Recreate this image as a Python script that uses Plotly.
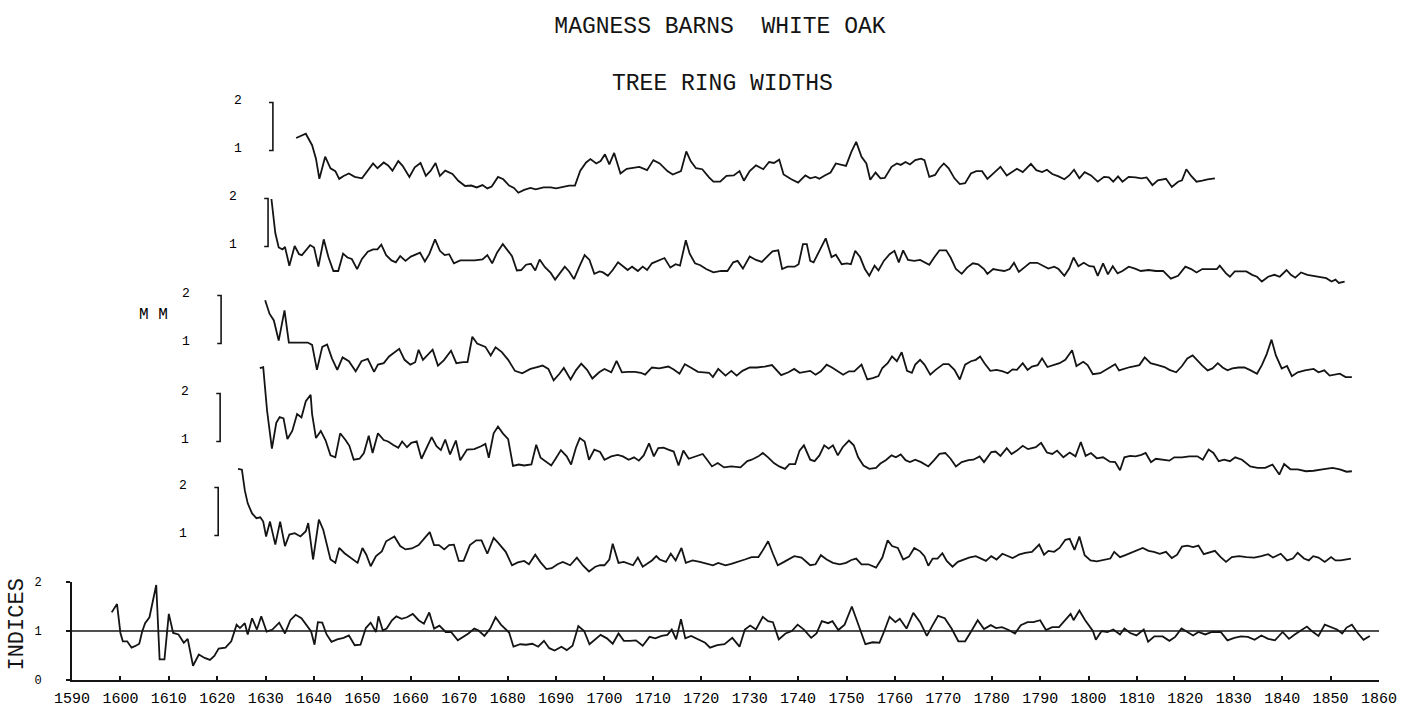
import plotly.graph_objects as go

# ---------------- text ----------------
TITLE = "MAGNESS BARNS  WHITE OAK"
SUBTITLE = "TREE RING WIDTHS"
UNIT_LABEL = "M M"
INDEX_LABEL = "INDICES"
X_TICKS = list(range(1590, 1861, 10))
INDEX_TICKS = [0, 1, 2]
BRACKET_LABELS = ["2", "1"]
INDEX_REF = 1.0

# ---------------- data: (year, ring width mm) ----------------
TREE_1 = [
    (1636.3, 1.26), (1638.3, 1.35), (1639.6, 1.11), (1640.4, 0.83), (1641.1, 0.41), (1642.3, 0.87),
    (1643.4, 0.63), (1644.4, 0.57), (1645.2, 0.41), (1646.1, 0.47), (1647.2, 0.52), (1648.4, 0.45),
    (1649.9, 0.42), (1651.1, 0.59), (1652.2, 0.73), (1653.1, 0.63), (1654.4, 0.75), (1655.3, 0.69),
    (1656.2, 0.58), (1657.4, 0.78), (1658.3, 0.68), (1659.7, 0.45), (1660.8, 0.65), (1662.0, 0.74),
    (1663.1, 0.47), (1664.1, 0.58), (1665.1, 0.74), (1666.0, 0.47), (1667.1, 0.58), (1668.6, 0.51),
    (1669.8, 0.37), (1671.2, 0.26), (1672.5, 0.27), (1673.6, 0.23), (1674.8, 0.28), (1675.8, 0.21),
    (1676.7, 0.25), (1678.0, 0.45), (1679.1, 0.40), (1680.3, 0.27), (1681.3, 0.22), (1682.2, 0.12),
    (1683.4, 0.18), (1684.7, 0.22), (1685.8, 0.19), (1687.4, 0.23), (1688.9, 0.23), (1690.0, 0.21),
    (1691.6, 0.25), (1692.7, 0.27), (1693.9, 0.27), (1695.0, 0.58), (1696.2, 0.75), (1697.1, 0.82),
    (1698.3, 0.73), (1699.2, 0.78), (1700.1, 0.92), (1701.0, 0.71), (1702.0, 0.95), (1703.3, 0.52),
    (1704.6, 0.62), (1705.7, 0.64), (1707.2, 0.66), (1708.8, 0.59), (1710.1, 0.80), (1711.4, 0.73),
    (1713.0, 0.57), (1714.1, 0.50), (1715.8, 0.57), (1716.9, 0.98), (1717.8, 0.78), (1718.9, 0.63),
    (1720.2, 0.61), (1721.6, 0.44), (1722.5, 0.35), (1723.9, 0.35), (1725.2, 0.47), (1726.7, 0.48),
    (1727.9, 0.57), (1728.8, 0.37), (1730.0, 0.57), (1731.3, 0.69), (1732.8, 0.61), (1734.0, 0.76),
    (1735.0, 0.74), (1736.1, 0.81), (1737.0, 0.50), (1738.6, 0.40), (1740.0, 0.33), (1741.5, 0.48),
    (1742.5, 0.42), (1743.6, 0.45), (1744.4, 0.41), (1745.5, 0.48), (1746.7, 0.54), (1747.8, 0.73),
    (1749.0, 0.71), (1749.9, 0.68), (1751.0, 0.97), (1752.0, 1.18), (1753.1, 0.87), (1754.1, 0.73),
    (1754.9, 0.39), (1756.0, 0.54), (1757.0, 0.42), (1757.9, 0.43), (1759.3, 0.66), (1760.4, 0.73),
    (1761.2, 0.70), (1762.2, 0.76), (1763.1, 0.71), (1764.2, 0.80), (1765.4, 0.83), (1766.1, 0.80),
    (1767.1, 0.45), (1768.3, 0.49), (1769.2, 0.63), (1770.1, 0.73), (1771.1, 0.63), (1772.3, 0.42),
    (1773.4, 0.30), (1774.5, 0.32), (1775.7, 0.52), (1776.8, 0.57), (1778.0, 0.57), (1779.1, 0.41),
    (1780.4, 0.53), (1781.8, 0.66), (1783.1, 0.48), (1784.3, 0.57), (1785.2, 0.62), (1786.4, 0.55),
    (1788.1, 0.72), (1789.2, 0.59), (1790.4, 0.55), (1791.4, 0.60), (1792.5, 0.51), (1793.8, 0.46),
    (1795.0, 0.40), (1796.0, 0.48), (1797.0, 0.60), (1798.1, 0.42), (1799.2, 0.55), (1800.5, 0.48),
    (1801.9, 0.35), (1803.2, 0.45), (1804.2, 0.44), (1805.1, 0.35), (1806.1, 0.46), (1807.0, 0.35),
    (1808.3, 0.45), (1809.7, 0.44), (1810.9, 0.42), (1812.0, 0.44), (1813.2, 0.28), (1814.3, 0.38),
    (1816.0, 0.41), (1817.2, 0.24), (1818.5, 0.35), (1819.3, 0.38), (1820.2, 0.61), (1821.2, 0.47),
    (1822.3, 0.35), (1823.5, 0.37), (1824.6, 0.40), (1826.1, 0.42),
]

TREE_2 = [
    (1631.2, 1.99), (1632.0, 1.28), (1632.7, 0.98), (1633.5, 0.94), (1634.0, 0.99), (1634.9, 0.60),
    (1636.0, 1.01), (1636.9, 0.84), (1637.5, 0.82), (1638.3, 0.92), (1639.2, 1.03), (1640.0, 0.98),
    (1640.9, 0.58), (1642.0, 1.15), (1643.0, 0.77), (1644.0, 0.49), (1645.0, 0.49), (1646.0, 0.85),
    (1646.9, 0.77), (1647.8, 0.74), (1648.9, 0.53), (1649.9, 0.74), (1651.1, 0.89), (1652.2, 0.94),
    (1653.1, 0.94), (1653.9, 1.04), (1654.9, 0.82), (1656.0, 0.71), (1656.9, 0.67), (1657.8, 0.80),
    (1658.9, 0.70), (1660.0, 0.79), (1661.2, 0.84), (1661.9, 0.87), (1662.9, 0.69), (1663.8, 0.84),
    (1665.0, 1.15), (1666.0, 0.91), (1667.0, 0.82), (1667.9, 0.84), (1668.9, 0.65), (1670.2, 0.71),
    (1671.7, 0.71), (1673.2, 0.71), (1674.8, 0.73), (1675.8, 0.82), (1676.8, 0.65), (1677.8, 0.87),
    (1679.0, 1.05), (1680.1, 0.91), (1680.9, 0.80), (1681.9, 0.50), (1682.8, 0.51), (1683.8, 0.62),
    (1684.8, 0.64), (1685.7, 0.50), (1686.6, 0.73), (1687.7, 0.57), (1688.9, 0.45), (1689.8, 0.31),
    (1690.8, 0.45), (1691.8, 0.58), (1692.7, 0.48), (1693.7, 0.32), (1694.9, 0.60), (1695.9, 0.82),
    (1696.9, 0.72), (1697.9, 0.43), (1699.0, 0.48), (1699.7, 0.46), (1700.7, 0.39), (1701.7, 0.51),
    (1702.8, 0.67), (1703.8, 0.58), (1704.8, 0.51), (1705.7, 0.58), (1706.9, 0.49), (1707.9, 0.58),
    (1708.8, 0.51), (1709.8, 0.65), (1710.9, 0.70), (1712.4, 0.76), (1713.6, 0.56), (1714.7, 0.63),
    (1715.6, 0.60), (1716.8, 1.13), (1717.6, 0.85), (1718.7, 0.65), (1719.8, 0.61), (1721.0, 0.53),
    (1722.5, 0.46), (1724.1, 0.49), (1725.4, 0.49), (1726.6, 0.67), (1727.5, 0.70), (1728.6, 0.54),
    (1730.0, 0.79), (1731.3, 0.72), (1732.5, 0.68), (1733.6, 0.79), (1734.7, 0.90), (1735.9, 0.92),
    (1736.7, 0.53), (1737.8, 0.58), (1739.3, 0.58), (1740.1, 0.63), (1741.0, 1.05), (1741.8, 1.05),
    (1742.5, 0.70), (1743.2, 0.67), (1744.4, 0.91), (1745.7, 1.17), (1746.9, 0.78), (1747.8, 0.83),
    (1749.0, 0.63), (1750.1, 0.65), (1750.9, 0.63), (1751.8, 0.91), (1752.8, 0.78), (1753.8, 0.53),
    (1754.7, 0.39), (1755.8, 0.60), (1756.6, 0.50), (1757.7, 0.70), (1758.9, 0.84), (1759.9, 0.91),
    (1760.8, 0.67), (1761.7, 0.92), (1762.7, 0.72), (1764.0, 0.70), (1765.2, 0.72), (1766.2, 0.67),
    (1767.1, 0.62), (1768.1, 0.77), (1769.2, 0.92), (1770.6, 0.92), (1771.5, 0.77), (1772.6, 0.53),
    (1773.8, 0.43), (1774.9, 0.56), (1776.1, 0.65), (1777.2, 0.63), (1778.4, 0.53), (1779.1, 0.43),
    (1780.3, 0.53), (1781.4, 0.51), (1782.6, 0.49), (1783.7, 0.53), (1784.6, 0.66), (1785.6, 0.47),
    (1786.8, 0.56), (1787.9, 0.66), (1789.4, 0.66), (1790.6, 0.59), (1791.7, 0.54), (1792.9, 0.58),
    (1793.8, 0.53), (1795.0, 0.39), (1796.0, 0.54), (1796.9, 0.77), (1797.9, 0.59), (1799.0, 0.66),
    (1800.2, 0.59), (1801.1, 0.58), (1801.9, 0.39), (1803.0, 0.65), (1804.0, 0.42), (1805.0, 0.59),
    (1806.0, 0.44), (1807.0, 0.49), (1808.3, 0.58), (1809.6, 0.54), (1810.8, 0.49), (1812.4, 0.51),
    (1813.9, 0.49), (1815.4, 0.49), (1817.0, 0.33), (1818.5, 0.39), (1820.0, 0.58), (1821.2, 0.53),
    (1822.3, 0.46), (1823.5, 0.53), (1825.0, 0.53), (1826.5, 0.53), (1827.1, 0.60), (1828.4, 0.44),
    (1829.2, 0.37), (1830.2, 0.48), (1831.5, 0.48), (1832.6, 0.48), (1833.8, 0.41), (1834.8, 0.37),
    (1835.8, 0.27), (1837.1, 0.37), (1838.4, 0.41), (1839.5, 0.37), (1840.9, 0.51), (1841.8, 0.41),
    (1842.7, 0.35), (1843.9, 0.46), (1845.2, 0.41), (1846.4, 0.39), (1847.9, 0.37), (1849.1, 0.34),
    (1850.2, 0.27), (1851.0, 0.31), (1851.7, 0.24), (1852.9, 0.27),
]

TREE_3 = [
    (1629.9, 1.90), (1630.8, 1.62), (1631.7, 1.48), (1632.7, 1.06), (1633.9, 1.69), (1634.8, 1.02),
    (1635.6, 1.02), (1638.7, 1.02), (1639.6, 0.97), (1640.6, 0.45), (1641.7, 0.93), (1642.7, 0.98),
    (1643.7, 0.69), (1644.8, 0.45), (1645.9, 0.71), (1647.2, 0.63), (1648.6, 0.42), (1649.8, 0.63),
    (1651.1, 0.68), (1652.4, 0.41), (1653.2, 0.56), (1654.4, 0.59), (1655.5, 0.73), (1657.6, 0.89),
    (1658.7, 0.66), (1659.9, 0.56), (1660.9, 0.61), (1661.6, 0.87), (1662.5, 0.66), (1663.5, 0.77),
    (1664.5, 0.87), (1665.6, 0.54), (1666.8, 0.65), (1668.3, 0.85), (1669.4, 0.59), (1670.8, 0.61),
    (1671.7, 0.61), (1672.7, 1.14), (1673.7, 1.00), (1675.4, 0.93), (1676.5, 0.75), (1677.5, 0.92),
    (1678.8, 0.82), (1680.1, 0.66), (1681.5, 0.43), (1683.0, 0.38), (1684.7, 0.47), (1686.1, 0.51),
    (1687.2, 0.54), (1688.4, 0.47), (1689.5, 0.23), (1690.7, 0.37), (1691.6, 0.49), (1693.0, 0.25),
    (1694.1, 0.44), (1695.2, 0.58), (1696.4, 0.45), (1697.5, 0.27), (1698.9, 0.40), (1700.0, 0.47),
    (1701.4, 0.40), (1702.5, 0.64), (1703.6, 0.40), (1704.8, 0.41), (1706.3, 0.41), (1707.5, 0.39),
    (1708.4, 0.35), (1709.8, 0.50), (1711.3, 0.48), (1713.2, 0.52), (1714.3, 0.46), (1715.5, 0.37),
    (1716.6, 0.57), (1717.8, 0.50), (1719.3, 0.41), (1720.5, 0.40), (1721.6, 0.39), (1722.4, 0.30),
    (1723.5, 0.47), (1725.0, 0.33), (1726.2, 0.43), (1727.3, 0.33), (1728.5, 0.43), (1730.0, 0.50),
    (1731.5, 0.50), (1733.1, 0.52), (1734.6, 0.55), (1736.5, 0.34), (1738.0, 0.40), (1739.2, 0.47),
    (1740.3, 0.39), (1742.5, 0.43), (1743.6, 0.35), (1744.7, 0.42), (1745.9, 0.56), (1747.0, 0.50),
    (1748.2, 0.42), (1749.3, 0.35), (1750.5, 0.42), (1751.6, 0.42), (1753.1, 0.56), (1754.3, 0.25),
    (1755.4, 0.28), (1756.6, 0.32), (1757.4, 0.49), (1758.5, 0.59), (1759.4, 0.73), (1760.4, 0.63),
    (1761.4, 0.82), (1762.5, 0.43), (1763.5, 0.39), (1764.2, 0.56), (1765.2, 0.66), (1766.1, 0.56),
    (1767.3, 0.35), (1768.4, 0.45), (1770.0, 0.57), (1771.1, 0.57), (1772.3, 0.45), (1773.4, 0.25),
    (1774.5, 0.56), (1775.7, 0.63), (1776.7, 0.66), (1777.6, 0.73), (1778.5, 0.59), (1779.7, 0.43),
    (1781.0, 0.45), (1782.3, 0.42), (1783.3, 0.38), (1784.3, 0.46), (1785.2, 0.45), (1786.4, 0.59),
    (1787.4, 0.45), (1788.3, 0.52), (1789.5, 0.55), (1790.4, 0.69), (1791.5, 0.51), (1792.9, 0.55),
    (1794.0, 0.59), (1795.2, 0.66), (1796.6, 0.86), (1797.5, 0.53), (1798.9, 0.62), (1799.8, 0.55),
    (1800.9, 0.36), (1802.4, 0.38), (1803.6, 0.46), (1804.7, 0.52), (1805.5, 0.57), (1806.3, 0.44),
    (1807.4, 0.48), (1808.6, 0.51), (1809.6, 0.53), (1810.5, 0.55), (1811.6, 0.71), (1812.8, 0.59),
    (1814.3, 0.55), (1815.7, 0.51), (1816.7, 0.45), (1818.1, 0.40), (1819.3, 0.53), (1820.4, 0.69),
    (1821.5, 0.75), (1822.5, 0.64), (1823.5, 0.54), (1824.6, 0.44), (1825.6, 0.48), (1826.7, 0.59),
    (1827.7, 0.50), (1828.7, 0.44), (1829.7, 0.48), (1831.0, 0.50), (1832.2, 0.50), (1833.5, 0.44),
    (1834.8, 0.37), (1835.8, 0.55), (1836.8, 0.78), (1837.8, 1.08), (1838.7, 0.75), (1839.9, 0.48),
    (1841.0, 0.53), (1842.0, 0.32), (1843.2, 0.40), (1844.7, 0.44), (1846.5, 0.47), (1847.5, 0.40),
    (1848.7, 0.44), (1849.8, 0.33), (1851.0, 0.35), (1851.9, 0.37), (1853.1, 0.30), (1854.4, 0.30),
]

TREE_4 = [
    (1628.8, 2.53), (1629.5, 2.55), (1630.3, 1.64), (1631.3, 0.85), (1632.2, 1.39), (1632.9, 1.51),
    (1633.7, 1.48), (1634.5, 1.05), (1635.5, 1.22), (1636.5, 1.57), (1637.4, 1.50), (1638.3, 1.84),
    (1639.3, 1.97), (1639.6, 1.57), (1640.4, 1.07), (1641.4, 1.22), (1642.4, 1.02), (1643.4, 0.71),
    (1644.4, 0.67), (1645.4, 1.17), (1646.5, 1.03), (1647.3, 0.91), (1648.2, 0.62), (1649.4, 0.64),
    (1650.3, 0.76), (1651.3, 1.12), (1652.1, 0.76), (1653.2, 1.17), (1654.4, 1.03), (1655.3, 1.00),
    (1656.3, 0.93), (1657.4, 0.87), (1658.2, 1.00), (1659.2, 0.88), (1660.1, 0.97), (1661.2, 1.00),
    (1662.2, 0.64), (1663.1, 0.83), (1664.3, 1.09), (1665.3, 0.90), (1666.2, 0.82), (1667.1, 1.04),
    (1668.1, 0.73), (1669.3, 1.02), (1670.2, 0.61), (1671.6, 0.83), (1673.1, 0.84), (1674.5, 0.90),
    (1675.4, 0.95), (1676.1, 0.66), (1677.1, 1.17), (1678.0, 1.31), (1679.0, 1.17), (1680.1, 1.05),
    (1681.1, 0.49), (1682.3, 0.52), (1683.4, 0.50), (1684.9, 0.52), (1685.9, 0.93), (1686.8, 0.66),
    (1688.0, 0.57), (1689.0, 0.50), (1689.9, 0.64), (1691.0, 0.82), (1692.2, 0.69), (1693.1, 0.52),
    (1694.1, 0.87), (1694.9, 1.07), (1695.9, 1.00), (1696.8, 0.62), (1697.9, 0.83), (1699.1, 0.78),
    (1700.0, 0.62), (1701.4, 0.69), (1702.7, 0.72), (1703.8, 0.69), (1705.0, 0.62), (1706.1, 0.67),
    (1707.1, 0.60), (1708.1, 0.71), (1709.2, 0.96), (1710.2, 0.69), (1711.1, 0.86), (1712.2, 0.87),
    (1713.2, 0.83), (1714.3, 0.79), (1715.3, 0.50), (1716.3, 0.81), (1717.4, 0.64), (1718.3, 0.67),
    (1719.3, 0.71), (1720.3, 0.74), (1721.2, 0.62), (1722.2, 0.48), (1723.4, 0.55), (1724.7, 0.46),
    (1726.2, 0.48), (1728.1, 0.46), (1729.5, 0.59), (1730.4, 0.62), (1731.8, 0.69), (1732.7, 0.76),
    (1733.8, 0.67), (1735.0, 0.55), (1736.1, 0.48), (1737.3, 0.43), (1738.2, 0.53), (1739.4, 0.53),
    (1740.3, 0.81), (1741.2, 0.92), (1742.5, 0.62), (1743.4, 0.59), (1744.4, 0.71), (1745.4, 0.92),
    (1746.3, 0.85), (1747.2, 0.92), (1748.2, 0.71), (1749.2, 0.88), (1750.5, 1.02), (1751.5, 0.92),
    (1752.4, 0.67), (1753.5, 0.50), (1754.7, 0.43), (1756.1, 0.45), (1757.0, 0.54), (1758.1, 0.61),
    (1759.3, 0.71), (1760.2, 0.67), (1761.2, 0.73), (1762.2, 0.61), (1763.1, 0.57), (1764.2, 0.62),
    (1765.4, 0.57), (1766.9, 0.48), (1768.1, 0.61), (1769.2, 0.74), (1770.4, 0.76), (1771.5, 0.64),
    (1772.6, 0.48), (1773.8, 0.57), (1775.2, 0.61), (1776.2, 0.62), (1777.5, 0.69), (1778.4, 0.57),
    (1779.9, 0.78), (1780.8, 0.79), (1781.8, 0.70), (1783.1, 0.86), (1784.1, 0.74), (1785.2, 0.81),
    (1786.4, 0.91), (1787.5, 0.84), (1789.1, 0.88), (1790.2, 0.97), (1791.4, 0.77), (1792.5, 0.74),
    (1793.5, 0.81), (1794.8, 0.67), (1796.1, 0.77), (1797.3, 0.69), (1798.4, 0.99), (1799.4, 0.70),
    (1800.5, 0.76), (1801.7, 0.65), (1803.0, 0.67), (1804.4, 0.58), (1805.5, 0.57), (1806.5, 0.40),
    (1807.4, 0.67), (1808.6, 0.70), (1809.7, 0.69), (1810.9, 0.72), (1811.8, 0.76), (1812.9, 0.57),
    (1813.9, 0.64), (1815.4, 0.62), (1816.7, 0.60), (1817.7, 0.67), (1819.3, 0.67), (1820.8, 0.69),
    (1822.5, 0.69), (1823.6, 0.62), (1824.8, 0.83), (1825.8, 0.76), (1826.9, 0.59), (1828.0, 0.62),
    (1829.2, 0.59), (1830.3, 0.67), (1831.7, 0.62), (1833.4, 0.48), (1834.9, 0.45), (1836.5, 0.45),
    (1838.0, 0.52), (1839.4, 0.31), (1840.4, 0.53), (1841.7, 0.42), (1843.2, 0.42), (1844.9, 0.38),
    (1846.5, 0.39), (1848.3, 0.42), (1850.4, 0.45), (1851.9, 0.42), (1853.3, 0.37), (1854.4, 0.38),
]

TREE_5 = [
    (1624.3, 2.39), (1625.1, 2.37), (1625.7, 1.94), (1626.3, 1.67), (1627.2, 1.46), (1628.1, 1.36),
    (1628.9, 1.38), (1629.5, 1.29), (1630.1, 0.98), (1630.9, 1.29), (1632.0, 0.81), (1633.0, 1.29),
    (1634.0, 0.78), (1634.9, 1.02), (1636.0, 1.05), (1637.2, 0.98), (1638.3, 1.09), (1638.8, 1.26),
    (1639.8, 0.50), (1641.0, 1.33), (1641.9, 1.12), (1642.5, 0.88), (1643.4, 0.50), (1644.4, 0.43),
    (1645.2, 0.74), (1646.3, 0.63), (1647.5, 0.54), (1649.0, 0.43), (1650.0, 0.74), (1650.8, 0.60),
    (1651.7, 0.36), (1652.8, 0.57), (1654.0, 0.67), (1654.9, 0.88), (1656.6, 0.98), (1657.8, 0.78),
    (1658.9, 0.71), (1660.2, 0.73), (1661.6, 0.80), (1662.8, 0.93), (1663.9, 1.07), (1664.8, 0.80),
    (1665.8, 0.80), (1666.9, 0.71), (1667.9, 0.80), (1668.9, 0.81), (1669.9, 0.47), (1670.9, 0.47),
    (1672.2, 0.80), (1673.5, 0.90), (1674.6, 0.90), (1675.8, 0.62), (1677.1, 0.95), (1678.0, 0.85),
    (1679.6, 0.66), (1680.9, 0.38), (1682.1, 0.44), (1683.4, 0.47), (1684.4, 0.40), (1685.7, 0.60),
    (1686.8, 0.44), (1688.0, 0.30), (1689.1, 0.32), (1690.3, 0.40), (1691.4, 0.45), (1692.9, 0.38),
    (1694.3, 0.54), (1695.6, 0.37), (1696.8, 0.25), (1698.1, 0.35), (1699.1, 0.38), (1700.0, 0.38),
    (1701.0, 0.50), (1701.7, 0.83), (1702.9, 0.43), (1704.0, 0.45), (1705.2, 0.41), (1705.9, 0.38),
    (1706.9, 0.54), (1707.9, 0.35), (1708.8, 0.41), (1709.8, 0.48), (1710.7, 0.57), (1711.4, 0.50),
    (1712.7, 0.45), (1713.7, 0.62), (1714.7, 0.48), (1715.9, 0.74), (1716.8, 0.43), (1718.2, 0.48),
    (1719.7, 0.45), (1721.2, 0.41), (1722.4, 0.38), (1723.5, 0.43), (1725.0, 0.38), (1726.2, 0.41),
    (1727.7, 0.45), (1729.0, 0.50), (1730.4, 0.55), (1731.8, 0.55), (1732.7, 0.69), (1733.8, 0.88),
    (1734.8, 0.62), (1735.8, 0.38), (1737.1, 0.45), (1738.2, 0.52), (1739.2, 0.57), (1740.7, 0.54),
    (1742.5, 0.38), (1743.6, 0.40), (1744.7, 0.59), (1745.9, 0.50), (1747.2, 0.43), (1748.6, 0.40),
    (1749.9, 0.43), (1751.0, 0.49), (1752.0, 0.52), (1753.1, 0.40), (1754.5, 0.40), (1756.1, 0.33),
    (1757.4, 0.54), (1758.5, 0.90), (1759.4, 0.78), (1760.6, 0.74), (1761.7, 0.50), (1762.9, 0.56),
    (1764.0, 0.74), (1765.2, 0.67), (1766.1, 0.57), (1766.9, 0.37), (1767.8, 0.52), (1768.8, 0.52),
    (1769.8, 0.63), (1770.7, 0.47), (1771.9, 0.35), (1773.0, 0.45), (1774.2, 0.50), (1775.3, 0.54),
    (1776.7, 0.57), (1777.8, 0.52), (1778.8, 0.47), (1779.9, 0.57), (1781.0, 0.50), (1782.2, 0.62),
    (1783.3, 0.57), (1784.3, 0.53), (1785.6, 0.60), (1786.9, 0.64), (1788.3, 0.66), (1789.8, 0.81),
    (1790.8, 0.60), (1791.7, 0.68), (1792.9, 0.66), (1794.0, 0.74), (1795.2, 0.91), (1796.1, 0.93),
    (1797.1, 0.70), (1798.1, 0.98), (1799.2, 0.59), (1800.4, 0.48), (1801.7, 0.46), (1803.2, 0.50),
    (1804.5, 0.52), (1805.3, 0.66), (1806.5, 0.55), (1807.6, 0.59), (1808.8, 0.64), (1810.1, 0.68),
    (1811.2, 0.74), (1812.4, 0.68), (1813.5, 0.66), (1814.7, 0.62), (1816.0, 0.66), (1817.2, 0.53),
    (1818.3, 0.60), (1819.3, 0.77), (1820.4, 0.79), (1821.6, 0.76), (1822.7, 0.79), (1823.8, 0.61),
    (1825.0, 0.64), (1826.1, 0.68), (1827.3, 0.55), (1828.4, 0.45), (1829.6, 0.55), (1831.1, 0.57),
    (1832.6, 0.55), (1834.2, 0.54), (1835.7, 0.57), (1837.1, 0.61), (1838.1, 0.54), (1839.7, 0.62),
    (1841.0, 0.48), (1842.2, 0.52), (1843.2, 0.64), (1844.5, 0.52), (1845.5, 0.48), (1846.4, 0.57),
    (1847.5, 0.54), (1848.8, 0.45), (1850.1, 0.55), (1851.0, 0.48), (1852.1, 0.48), (1853.3, 0.50),
    (1854.2, 0.52),
]

INDICES = [
    (1598.2, 1.38), (1599.3, 1.55), (1600.0, 0.96), (1600.5, 0.79), (1601.4, 0.79), (1602.3, 0.66),
    (1603.0, 0.69), (1603.9, 0.74), (1604.5, 0.99), (1605.1, 1.16), (1606.0, 1.28), (1606.7, 1.58),
    (1607.4, 1.94), (1608.1, 0.42), (1609.1, 0.42), (1610.0, 1.35), (1610.9, 0.96), (1612.0, 0.93),
    (1613.1, 0.76), (1613.9, 0.84), (1615.0, 0.29), (1616.2, 0.52), (1617.4, 0.45), (1618.5, 0.41),
    (1619.4, 0.49), (1620.3, 0.64), (1621.7, 0.66), (1622.9, 0.79), (1624.0, 1.13), (1624.7, 1.06),
    (1625.7, 1.16), (1626.3, 0.93), (1627.2, 1.26), (1628.2, 1.03), (1629.1, 1.30), (1630.2, 0.99),
    (1631.4, 1.03), (1632.8, 1.17), (1634.0, 0.95), (1635.1, 1.22), (1636.2, 1.33), (1637.4, 1.26),
    (1638.6, 1.09), (1639.4, 0.99), (1640.1, 0.72), (1640.8, 1.18), (1641.7, 1.17), (1642.6, 0.93),
    (1643.6, 0.78), (1644.8, 0.83), (1646.1, 0.86), (1647.2, 0.91), (1648.4, 0.71), (1649.6, 0.72),
    (1650.7, 1.06), (1651.7, 1.17), (1652.8, 0.98), (1653.3, 1.30), (1654.2, 1.01), (1655.0, 1.05),
    (1656.1, 1.22), (1657.0, 1.30), (1658.1, 1.25), (1659.2, 1.28), (1660.4, 1.35), (1661.6, 1.22),
    (1662.7, 1.15), (1663.8, 1.38), (1664.8, 1.05), (1665.9, 1.11), (1667.2, 0.98), (1668.3, 0.98),
    (1669.7, 0.81), (1670.9, 0.88), (1671.9, 0.95), (1673.1, 1.05), (1674.0, 1.01), (1675.2, 0.90),
    (1676.4, 1.05), (1677.5, 1.28), (1678.6, 1.13), (1680.3, 0.97), (1681.2, 0.68), (1682.6, 0.73),
    (1683.8, 0.72), (1685.1, 0.74), (1686.3, 0.68), (1687.5, 0.80), (1688.6, 0.65), (1689.7, 0.60),
    (1691.1, 0.68), (1692.2, 0.61), (1693.4, 0.70), (1694.6, 1.10), (1695.8, 1.00), (1696.9, 0.73),
    (1697.8, 0.80), (1699.2, 0.92), (1700.5, 0.85), (1701.7, 0.74), (1702.9, 0.95), (1704.0, 0.80),
    (1705.2, 0.80), (1706.5, 0.81), (1707.9, 0.70), (1709.3, 0.88), (1710.5, 0.85), (1711.8, 0.90),
    (1713.0, 0.92), (1713.9, 1.03), (1714.8, 0.83), (1715.8, 1.24), (1716.7, 0.85), (1717.9, 0.90),
    (1720.8, 0.76), (1721.8, 0.66), (1723.3, 0.71), (1724.8, 0.73), (1726.4, 0.86), (1727.9, 0.68),
    (1729.0, 1.03), (1730.1, 1.11), (1731.3, 1.03), (1732.7, 1.29), (1733.8, 1.20), (1734.8, 1.18),
    (1736.0, 0.83), (1737.4, 0.95), (1738.7, 1.00), (1739.9, 1.13), (1741.2, 1.03), (1742.7, 0.86),
    (1743.8, 0.95), (1744.9, 1.20), (1746.2, 1.16), (1747.1, 1.20), (1748.3, 1.02), (1749.6, 1.13),
    (1751.1, 1.50), (1752.4, 1.13), (1753.9, 0.73), (1755.4, 0.77), (1756.8, 0.76), (1757.8, 1.00),
    (1758.9, 1.29), (1760.1, 1.18), (1761.0, 1.25), (1762.4, 1.05), (1763.8, 1.37), (1765.2, 1.18),
    (1766.6, 0.90), (1767.8, 1.12), (1768.9, 1.31), (1770.3, 1.26), (1771.7, 1.05), (1773.1, 0.79),
    (1774.5, 0.79), (1775.8, 1.00), (1777.1, 1.22), (1778.4, 1.04), (1779.8, 1.12), (1780.9, 1.06),
    (1782.1, 1.08), (1783.5, 1.02), (1784.8, 0.95), (1786.0, 1.12), (1787.4, 1.18), (1788.6, 1.18),
    (1790.0, 1.22), (1791.2, 1.02), (1792.5, 1.08), (1793.9, 1.08), (1795.3, 1.25), (1796.3, 1.35),
    (1796.9, 1.22), (1798.1, 1.42), (1799.3, 1.22), (1800.9, 1.00), (1801.5, 0.82), (1802.7, 1.00),
    (1803.9, 0.98), (1805.1, 1.03), (1806.5, 0.93), (1807.4, 1.05), (1808.6, 0.96), (1809.9, 0.91),
    (1811.4, 1.03), (1812.3, 0.78), (1813.6, 0.89), (1815.3, 0.89), (1816.7, 0.80), (1817.9, 0.88),
    (1819.2, 1.05), (1820.4, 0.98), (1821.6, 0.91), (1822.7, 0.98), (1824.1, 0.93), (1825.5, 0.98),
    (1827.3, 0.98), (1828.7, 0.81), (1830.1, 0.86), (1831.5, 0.89), (1832.9, 0.88), (1834.3, 0.82),
    (1835.7, 0.91), (1837.1, 0.84), (1838.5, 0.81), (1840.1, 0.98), (1841.4, 0.84), (1842.6, 0.93),
    (1843.8, 1.00), (1845.1, 1.09), (1846.1, 1.00), (1847.5, 0.90), (1848.8, 1.13), (1850.1, 1.07),
    (1851.3, 1.03), (1852.4, 0.95), (1853.3, 1.07), (1854.4, 1.13), (1855.6, 0.96), (1856.8, 0.82),
    (1858.1, 0.90),
]

TREES = [TREE_1, TREE_2, TREE_3, TREE_4, TREE_5]

# ---------------- layout constants (pixels) ----------------
W, H = 1404, 708
ML, MR, MT, MB = 72, 25, 0, 27
PLOT_W = W - ML - MR
PLOT_H = H - MT - MB
PX_PER_MM = 48.5
PX_PER_IDX = 49.5
PANEL_ONE_MM_PX = [146, 243, 341, 440, 535]   # pixel row of the 1 mm level of each panel
PANEL_RANGE = 3.0
BRACKET_YEAR = [1631.5, 1630.5, 1620.8, 1620.6, 1620.2]
BRACKET_TICK = 0.8
INK = "#141414"
FONT = "Liberation Mono"
CLEAR = "rgba(0,0,0,0)"


def paper_x(px):
    return (px - ML) / PLOT_W


def paper_y(py):
    return (PLOT_H - (py - MT)) / PLOT_H


fig = go.Figure()

# indices panel (axis y)
idx_top = 2.0
fig.add_trace(go.Scatter(x=[X_TICKS[0], X_TICKS[-1]], y=[INDEX_REF, INDEX_REF], mode="lines",
                         line=dict(color=INK, width=1.6), xaxis="x", yaxis="y", hoverinfo="skip"))
fig.add_trace(go.Scatter(x=[p[0] for p in INDICES], y=[p[1] for p in INDICES], mode="lines",
                         line=dict(color=INK, width=1.8), xaxis="x", yaxis="y"))

layout_axes = {}
annotations = []
for i, series in enumerate(TREES):
    ax = f"y{i + 2}"
    zero_px = PANEL_ONE_MM_PX[i] + PX_PER_MM
    d0 = paper_y(zero_px)
    d1 = d0 + PANEL_RANGE * PX_PER_MM / PLOT_H
    layout_axes[f"yaxis{i + 2}"] = dict(domain=[d0, d1], range=[0, PANEL_RANGE], visible=False,
                                        anchor="x", fixedrange=True)
    fig.add_trace(go.Scatter(x=[p[0] for p in series], y=[p[1] for p in series], mode="lines",
                             line=dict(color=INK, width=1.8), xaxis="x", yaxis=ax,
                             cliponaxis=False))
    bx = BRACKET_YEAR[i]
    fig.add_trace(go.Scatter(x=[bx - BRACKET_TICK, bx, bx, bx - BRACKET_TICK], y=[2, 2, 1, 1],
                             mode="lines", line=dict(color=INK, width=1.6), xaxis="x", yaxis=ax,
                             hoverinfo="skip"))
    for lab in BRACKET_LABELS:
        annotations.append(dict(x=bx, y=float(lab), xref="x", yref=ax, text=lab, showarrow=False,
                                xanchor="center", yanchor="middle",
                                xshift=-35, yshift=2, font=dict(family=FONT, size=13, color="black")))

annotations += [
    dict(x=paper_x(722), y=paper_y(79), xref="paper", yref="paper", text=SUBTITLE, showarrow=False,
         xanchor="center", yanchor="middle", font=dict(family=FONT, size=23, color=INK)),
    dict(x=paper_x(153), y=paper_y(312), xref="paper", yref="paper", text=UNIT_LABEL, showarrow=False,
         xanchor="center", yanchor="middle", font=dict(family=FONT, size=16, color="black")),
    dict(x=paper_x(18), y=paper_y(625), xref="paper", yref="paper", text=INDEX_LABEL, showarrow=False,
         xanchor="center", yanchor="middle", textangle=-90,
         font=dict(family=FONT, size=22, color=INK)),
]

fig.update_layout(
    width=W, height=H, margin=dict(l=ML, r=MR, t=MT, b=MB),
    paper_bgcolor="white", plot_bgcolor=CLEAR, showlegend=False,
    title=dict(text=TITLE, x=720 / W, xref="container", y=1 - 25 / H, yref="container",
               xanchor="center", yanchor="middle", font=dict(family=FONT, size=23, color=INK)),
    xaxis=dict(range=[X_TICKS[0], X_TICKS[-1]], tickvals=X_TICKS, ticks="inside", ticklen=4,
               tickwidth=1.5, tickcolor=INK, showline=True, linecolor=INK, linewidth=1.8,
               showgrid=False, zeroline=False, anchor="y", fixedrange=True,
               ticklabelstandoff=3,
               tickfont=dict(family=FONT, size=15, color="black")),
    yaxis=dict(domain=[0, idx_top * PX_PER_IDX / PLOT_H], range=[0, idx_top], tickvals=INDEX_TICKS,
               ticks="outside", ticklen=4, tickwidth=1.5, tickcolor=INK, showline=True,
               linecolor=INK, linewidth=1.8, showgrid=False, zeroline=False, anchor="x",
               ticklabelstandoff=22, fixedrange=True,
               tickfont=dict(family=FONT, size=12, color="black")),
    annotations=annotations,
    **layout_axes,
)

fig.write_html("out.html")
